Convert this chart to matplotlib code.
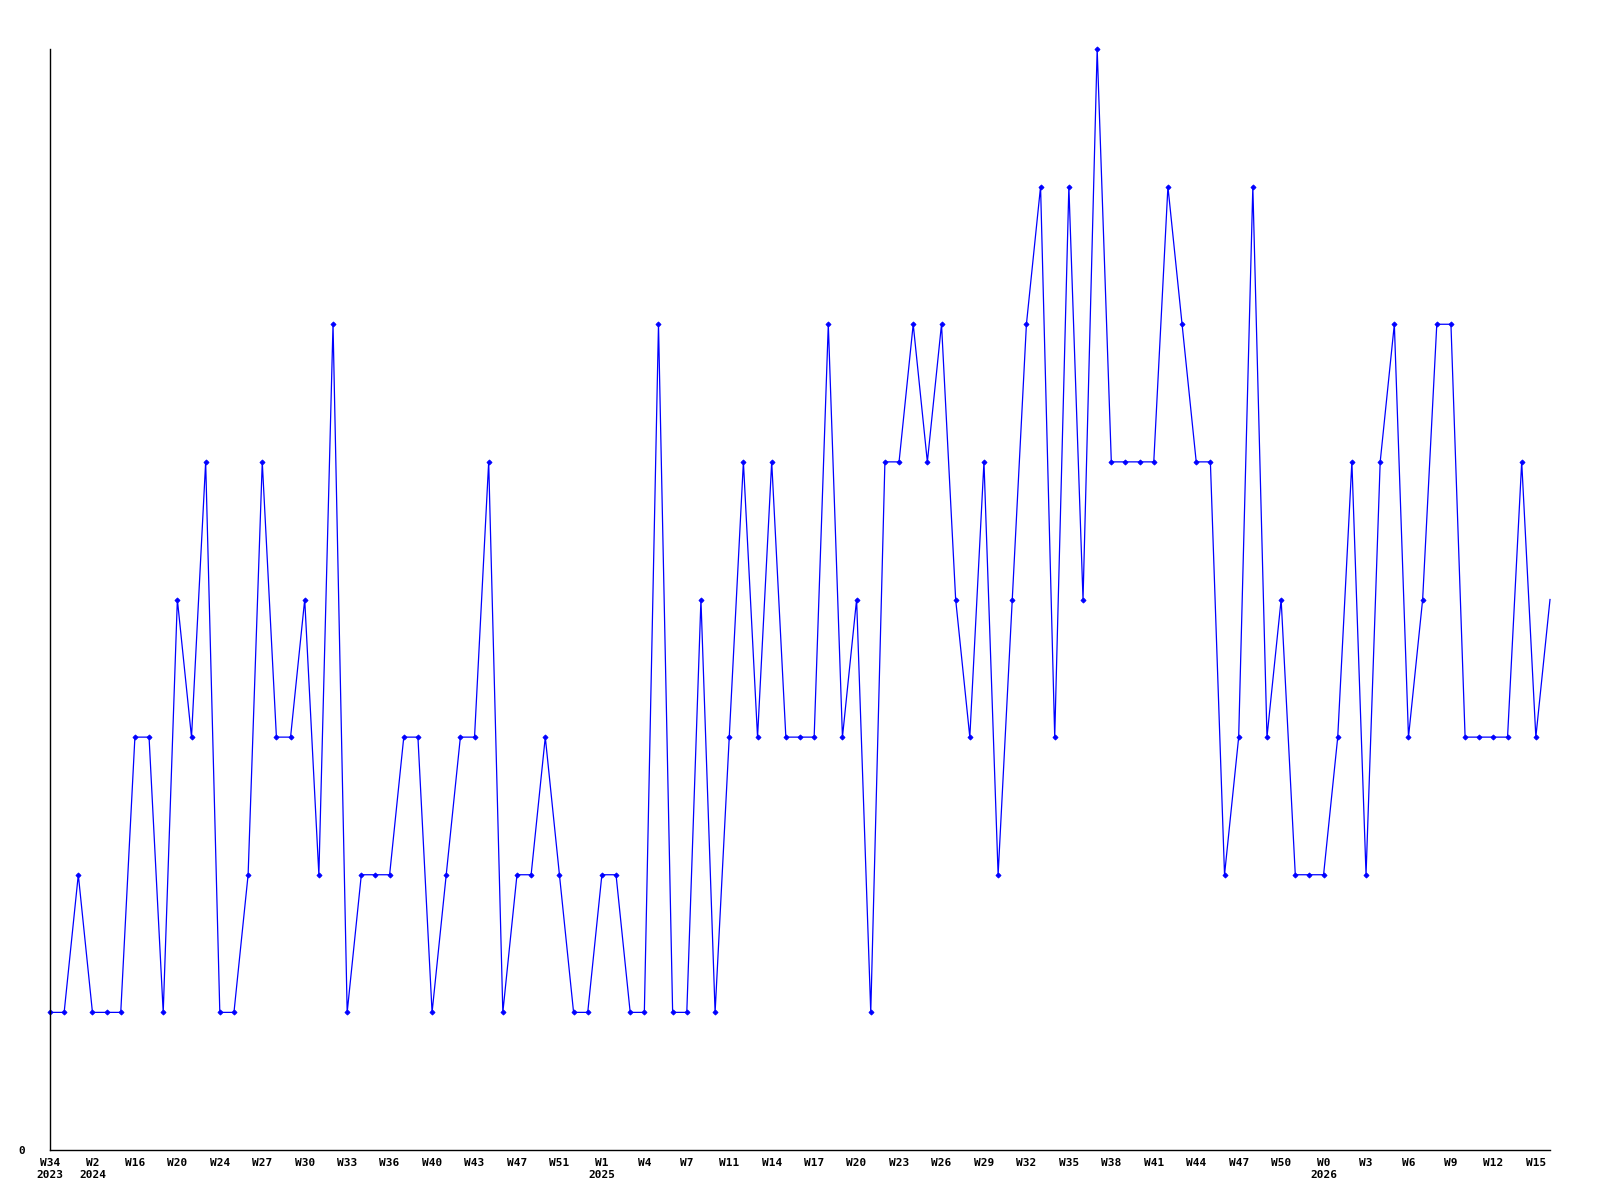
import matplotlib
matplotlib.use("Agg")
import matplotlib.pyplot as plt

values = [1, 1, 2, 1, 1, 1, 3, 3, 1, 4, 3, 5, 1, 1, 2, 5, 3, 3, 4, 2,
          6, 1, 2, 2, 2, 3, 3, 1, 2, 3, 3, 5, 1, 2, 2, 3, 2, 1, 1, 2,
          2, 1, 1, 6, 1, 1, 4, 1, 3, 5, 3, 5, 3, 3, 3, 6, 3, 4, 1, 5,
          5, 6, 5, 6, 4, 3, 5, 2, 4, 6, 7, 3, 7, 4, 8, 5, 5, 5, 5, 7,
          6, 5, 5, 2, 3, 7, 3, 4, 2, 2, 2, 3, 5, 2, 5, 6, 3, 4, 6, 6,
          3, 3, 3, 3, 5, 3, 4]
week_labels = ["W34", "W2", "W16", "W20", "W24", "W27", "W30", "W33", "W36",
               "W40", "W43", "W47", "W51", "W1", "W4", "W7", "W11", "W14",
               "W17", "W20", "W23", "W26", "W29", "W32", "W35", "W38", "W41",
               "W44", "W47", "W50", "W0", "W3", "W6", "W9", "W12", "W15"]
year_labels = {0: "2023", 1: "2024", 13: "2025", 30: "2026"}
label_step = 3

fig = plt.figure(figsize=(16, 12), dpi=100)
ax = fig.add_axes([50/1600, 50/1200, 1500/1600, 1101/1200])

x = list(range(len(values)))
ax.plot(x, values, color=(0, 0, 1), lw=0.9, marker='D', markersize=2.6,
        markeredgewidth=0.6, clip_on=False,
        markevery=list(range(len(values) - 1)))

ax.set_xlim(0, len(values) - 1)
ax.set_ylim(0, 8)

ticks = [i * label_step for i in range(len(week_labels))]
labels = [w + ("\n" + year_labels[i] if i in year_labels else "")
          for i, w in enumerate(week_labels)]
ax.set_xticks(ticks)
ax.set_xticklabels(labels, fontfamily="DejaVu Sans Mono", fontweight="bold",
                   fontsize=8, linespacing=1.25, va="top")
ax.set_yticks([0])
ax.set_yticklabels(["0"], fontfamily="DejaVu Sans Mono", fontweight="bold",
                   fontsize=8)
ax.tick_params(axis="x", length=0, pad=6)
ax.tick_params(axis="y", length=0, pad=18)

for s in ("top", "right"):
    ax.spines[s].set_visible(False)
for s in ("left", "bottom"):
    ax.spines[s].set_linewidth(1.0)
    ax.spines[s].set_color("black")

fig.savefig("out.png", dpi=100)
